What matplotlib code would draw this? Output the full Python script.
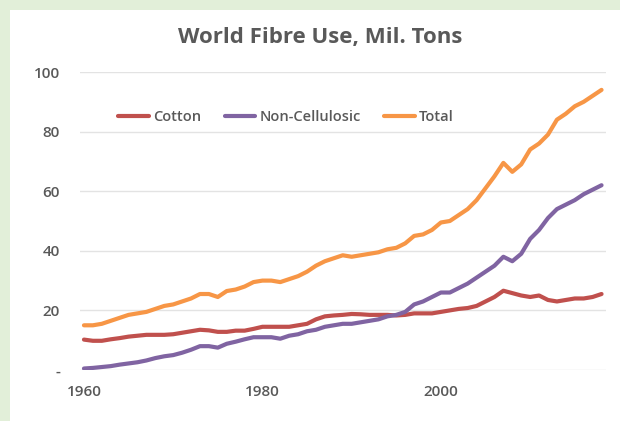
import matplotlib
matplotlib.use("Agg")
import matplotlib.pyplot as plt
from matplotlib.patches import Rectangle
import numpy as np

years = list(range(1960, 2019))

cotton = [10.2, 9.8, 9.8, 10.3, 10.7, 11.2, 11.5, 11.8, 11.8, 11.8,
          12.0, 12.5, 13.0, 13.5, 13.3, 12.8, 12.8, 13.2, 13.2, 13.8,
          14.5, 14.5, 14.5, 14.5, 15.0, 15.5, 17.0, 18.0, 18.3, 18.5,
          18.8, 18.7, 18.5, 18.5, 18.5, 18.3, 18.5, 19.0, 19.0, 19.0,
          19.5, 20.0, 20.5, 20.8, 21.5, 23.0, 24.5, 26.6, 25.8, 25.0,
          24.5, 25.0, 23.5, 23.0, 23.5, 24.0, 24.0, 24.5, 25.5]

non_cellulosic = [0.5, 0.7, 1.0, 1.3, 1.8, 2.2, 2.6, 3.2, 4.0, 4.6,
                  5.0, 5.8, 6.8, 8.0, 8.0, 7.5, 8.8, 9.5, 10.3, 11.0,
                  11.0, 11.0, 10.5, 11.5, 12.0, 13.0, 13.5, 14.5, 15.0, 15.5,
                  15.5, 16.0, 16.5, 17.0, 18.0, 18.5, 19.5, 22.0, 23.0, 24.5,
                  26.0, 26.0, 27.5, 29.0, 31.0, 33.0, 35.0, 38.0, 36.5, 39.0,
                  44.0, 47.0, 51.0, 54.0, 55.5, 57.0, 59.0, 60.5, 62.0]

total = [15.0, 15.0, 15.5, 16.5, 17.5, 18.5, 19.0, 19.5, 20.5, 21.5,
         22.0, 23.0, 24.0, 25.5, 25.5, 24.5, 26.5, 27.0, 28.0, 29.5,
         30.0, 30.0, 29.5, 30.5, 31.5, 33.0, 35.0, 36.5, 37.5, 38.5,
         38.0, 38.5, 39.0, 39.5, 40.5, 41.0, 42.5, 45.0, 45.5, 47.0,
         49.5, 50.0, 52.0, 54.0, 57.0, 61.0, 65.0, 69.5, 66.5, 69.0,
         74.0, 76.0, 79.0, 84.0, 86.0, 88.5, 90.0, 92.0, 94.0]

series_names = ["Cotton", "Non-Cellulosic", "Total"]
series_colors = ["#C0504D", "#8064A2", "#F79646"]
y_ticks = [0, 20, 40, 60, 80, 100]
y_tick_labels = ["-", "20", "40", "60", "80", "100"]
x_ticks = [1960, 1980, 2000]
x_tick_labels = ["1960", "1980", "2000"]
title = "World Fibre Use, Mil. Tons"

plt.rcParams['font.family'] = ['Open Sans', 'DejaVu Sans']

W, H = 620, 421
fig = plt.figure(figsize=(W / 100, H / 100), dpi=100)
fig.patch.set_facecolor("#E2EFD9")
fig.patches.append(Rectangle((10 / W, 0), 1 - 10 / W, (H - 10) / H,
                             transform=fig.transFigure, facecolor="white",
                             edgecolor="none", zorder=-10))

left, right = 79.5 / W, 606 / W
bottom, top = (H - 370) / H, (H - 72) / H
ax = fig.add_axes([left, bottom, right - left, top - bottom])
ax.set_facecolor("none")
ax.set_zorder(1)

for vals, name, col in zip([cotton, non_cellulosic, total], series_names, series_colors):
    ax.plot(years, vals, color=col, lw=3.0, label=name, solid_capstyle="round",
            solid_joinstyle="round", zorder=3)

ax.set_xlim(1959.5, 2018.5)
ax.set_ylim(0, 100)
ax.set_yticks(y_ticks)
ax.set_yticklabels(y_tick_labels)
ax.set_xticks(x_ticks)
ax.set_xticklabels(x_tick_labels)
ax.grid(axis="y", color="#E3E3E3", lw=1.0, zorder=1)
ax.tick_params(length=0, labelsize=11, labelcolor="#595959")
ax.tick_params(axis="y", pad=14)
ax.tick_params(axis="x", pad=11)
for lab in ax.get_xticklabels() + ax.get_yticklabels():
    lab.set_fontweight("semibold")
for s in ax.spines.values():
    s.set_visible(False)

fig.text(320 / W, 1 - 37 / H, title, ha="center", va="center", fontsize=16,
         fontweight="bold", color="#595959")

leg = ax.legend(loc="center", bbox_to_anchor=(286 / W, 1 - 117 / H),
                bbox_transform=fig.transFigure, ncol=3, frameon=False,
                prop={"size": 10.5, "weight": "semibold"}, handlelength=2.1,
                columnspacing=1.6, handletextpad=0.3, labelcolor="#595959")

fig.savefig("out.png", dpi=100, facecolor=fig.get_facecolor())
